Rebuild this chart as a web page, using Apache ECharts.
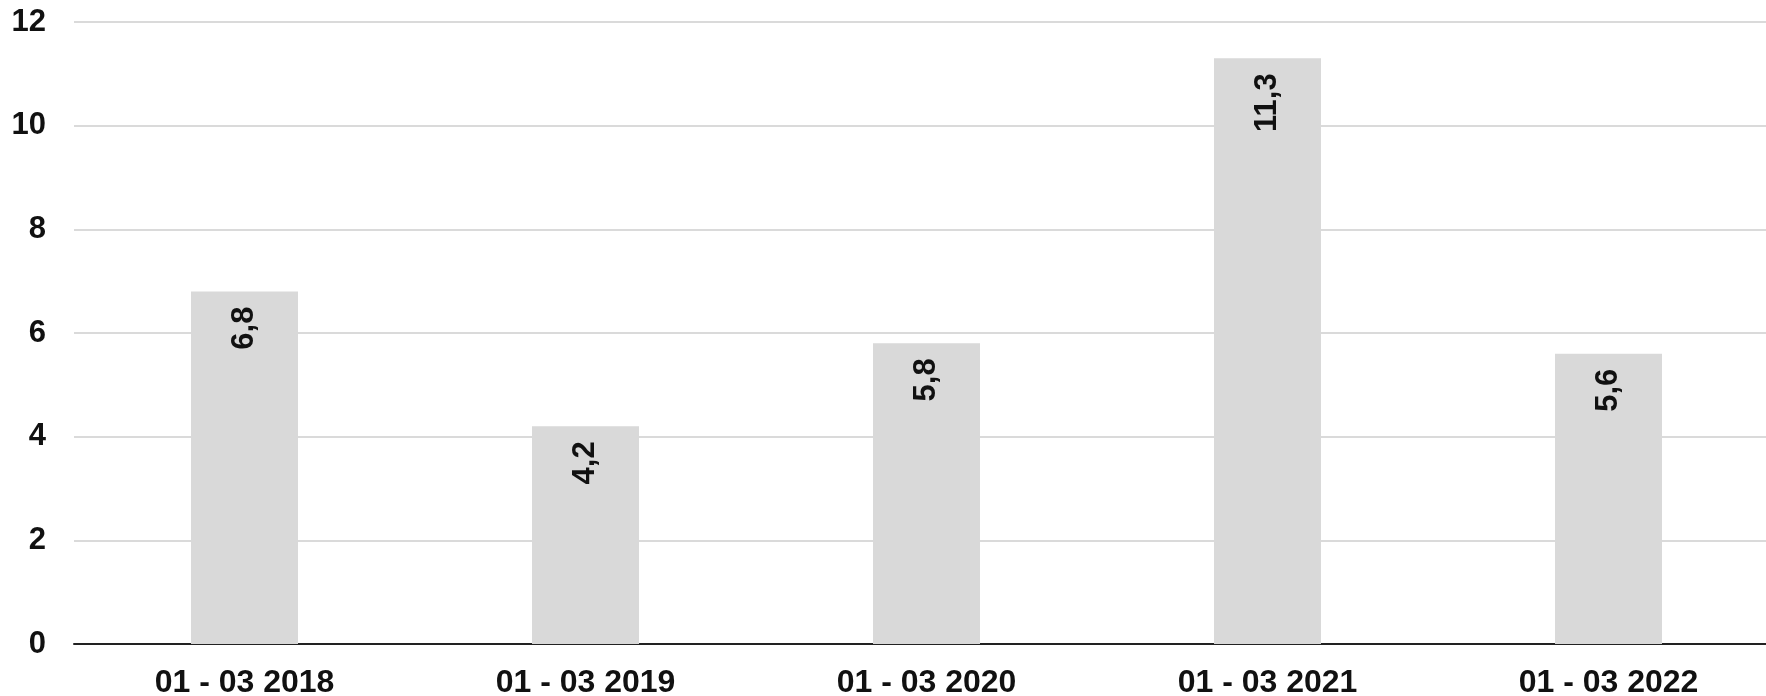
<!DOCTYPE html>
<html>
<head>
<meta charset="utf-8">
<script src="https://cdn.jsdelivr.net/npm/echarts@6/dist/echarts.min.js"></script>
<style>html,body{margin:0;padding:0;background:#fff}#c{width:1766px;height:696px}</style>
</head>
<body>
<div id="c"></div>
<script>
const categories = ['01 - 03 2018', '01 - 03 2019', '01 - 03 2020', '01 - 03 2021', '01 - 03 2022'];
const values = [6.8, 4.2, 5.8, 11.3, 5.6];
const yTicks = { min: 0, max: 12, interval: 2 };

const chart = echarts.init(document.getElementById('c'));
const font = 'Liberation Sans, Arial, sans-serif';
chart.setOption({
  animation: false,
  backgroundColor: '#ffffff',
  grid: { left: 74, width: 1705, top: 22, height: 622, containLabel: false, outerBoundsMode: 'none' },
  xAxis: {
    type: 'category',
    data: categories,
    axisTick: { show: false },
    axisLine: { show: true, lineStyle: { color: '#222', width: 2 } },
    axisLabel: { color: '#111', fontSize: 32, fontWeight: 'bold', fontFamily: font, margin: 23 }
  },
  yAxis: {
    type: 'value',
    min: yTicks.min, max: yTicks.max, interval: yTicks.interval,
    axisLine: { show: false },
    axisTick: { show: false },
    splitLine: { lineStyle: { color: '#dadada', width: 2 } },
    axisLabel: { color: '#111', fontSize: 31, fontWeight: 'bold', fontFamily: font, margin: 28 }
  },
  series: [{
    type: 'bar',
    data: values,
    barWidth: 107,
    itemStyle: { color: '#d9d9d9' },
    label: {
      show: true,
      position: 'insideTop',
      rotate: 90,
      align: 'right',
      verticalAlign: 'middle',
      distance: 15,
      color: '#111',
      fontSize: 31,
      fontWeight: 'bold',
      fontFamily: font,
      formatter: p => String(p.value).replace('.', ',')
    }
  }]
});
</script>
</body>
</html>
